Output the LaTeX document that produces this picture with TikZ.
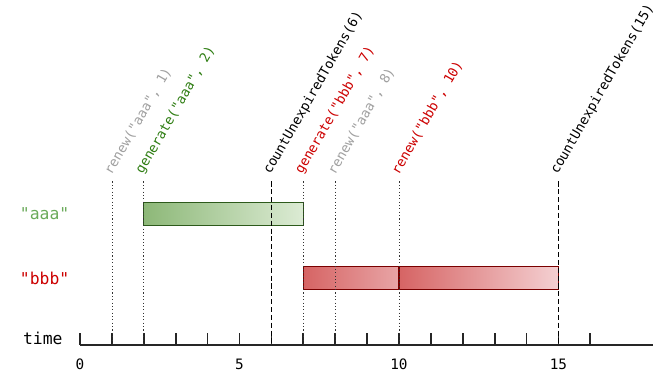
\documentclass[tikz,border=0pt]{standalone}
\usepackage{fontspec}
\newfontfamily\codefont{DejaVu Sans Mono}
\usetikzlibrary{positioning}
\definecolor{AaaKey}{RGB}{106,170,90}
\definecolor{AaaCall}{RGB}{46,125,18}
\definecolor{AaaDark}{RGB}{45,90,27}
\definecolor{AaaFillA}{RGB}{141,184,120}
\definecolor{AaaFillB}{RGB}{220,235,212}
\definecolor{BbbRed}{RGB}{204,0,0}
\definecolor{BbbDark}{RGB}{122,0,0}
\definecolor{BbbFillA}{RGB}{214,100,100}
\definecolor{BbbFillB}{RGB}{244,208,210}
\definecolor{CallGray}{RGB}{160,160,160}
\tikzset{
  evlab/.style={anchor=south west,rotate=60,inner sep=1pt,xshift=0.12cm,font=\codefont\fontsize{11.9}{13}\selectfont},
  keylab/.style={anchor=east,inner sep=0pt,font=\codefont\fontsize{14.6}{15}\selectfont},
  ticklab/.style={inner sep=0pt,font=\codefont\fontsize{12.8}{13}\selectfont},
  axis/.style={draw=black!85,line width=1.6pt},
  evdot/.style={draw=black!80,line width=0.6pt,dash pattern=on 1pt off 2pt},
  evdash/.style={draw=black,line width=1.1pt,dash pattern=on 4.5pt off 2.5pt},
}
\tikzset{aaabar/.style={draw=AaaDark,line width=0.9pt,left color=AaaFillA,right color=AaaFillB},
  bbbbar/.style={draw=BbbDark,line width=0.9pt,left color=BbbFillA,right color=BbbFillB}}

\begin{document}
\begin{tikzpicture}
\useasboundingbox (-2.508,-1.254) rectangle (18.527,10.815);
% time axis
\draw[axis] (0,0) -- (17.96,0);
\foreach \i in {0,...,16}{\coordinate (t\i) at (\i,0); \draw[axis] (t\i) -- ++(0,0.376);}
\foreach \i in {0,5,10,15}{\node[ticklab] (n\i) at (\i,-0.6) {\i};}
\node[keylab,anchor=base east] (time) at (-0.54,0.02) {time};
% keys
\node[keylab,text=AaaKey] (aaa) at (-0.33,4.11) {"aaa"};
\node[keylab,text=BbbRed] (bbb) at (-0.33,2.085) {"bbb"};
% token lifetimes
\draw[aaabar] (2,3.74) rectangle (7,4.48);
\draw[bbbbar,right color=BbbFillA!40!BbbFillB] (7,1.724) rectangle (10,2.445);
\draw[bbbbar] (10,1.724) rectangle (15,2.445);
% calls
\foreach \t/\txt/\c/\s in {1/{renew("aaa", 1)}/CallGray/evdot,2/{generate("aaa", 2)}/AaaCall/evdot,
  6/{countUnexpiredTokens(6)}/black/evdash,7/{generate("bbb", 7)}/BbbRed/evdot,
  8/{renew("aaa", 8)}/CallGray/evdot,10/{renew("bbb", 10)}/BbbRed/evdot,
  15/{countUnexpiredTokens(15)}/black/evdash}{
  \coordinate (c\t) at (\t,5.126);
  \node[evlab,text=\c] (e\t) at (c\t) {\txt};
  \draw[\s] (c\t) -- (t\t);
}
\end{tikzpicture}
\end{document}
